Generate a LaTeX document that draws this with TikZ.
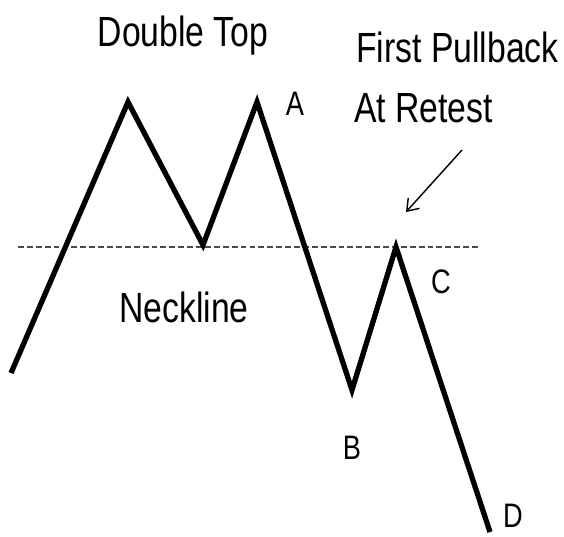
\documentclass[tikz,border=0pt]{standalone}
\usepackage{fontspec}
\setmainfont{Liberation Sans}
\usetikzlibrary{arrows.meta}

\newcommand{\narrow}[1]{\scalebox{0.8}[1]{#1}}

\begin{document}
\begin{tikzpicture}[
  x=0.03cm, y=-0.03cm,
  >={Straight Barb[length=9pt, width=13pt, line width=1.2pt]},
  title/.style={font=\fontsize{36}{40}\selectfont, anchor=base, inner sep=0pt},
  point/.style={font=\fontsize{29}{32}\selectfont, anchor=base, inner sep=0pt},
  price/.style={line width=4.5pt, line join=miter},
  neck/.style={line width=1.7pt, black!70, dash pattern=on 5pt off 2.6pt},
  pointer/.style={->, line width=1.2pt},
]
\useasboundingbox[fill=white] (0,0) rectangle (564,537);

% price path
\coordinate (start) at (11,373);
\coordinate (top1) at (128,102);
\coordinate (mid) at (203,245);
\coordinate (top2) at (257,102);
\coordinate (b) at (352,390);
\coordinate (c) at (396,247);
\coordinate (d) at (490,532);

% neckline
\coordinate (nleft) at (18,247);
\coordinate (nright) at (478,247);

\coordinate (tail) at (462,150);
\coordinate (tip) at (406,212);

\node[title] (dtop) at (183,47) {\narrow{Double Top}};
\node[title, anchor=base west] (pull) at (356,63) {\narrow{First Pullback}};
\node[title, anchor=base west] (retest) at (354,123) {\narrow{At Retest}};
\node[title] (neckl) at (184,322) {\narrow{Neckline}};

\node[point] (la) at (295,116) {\narrow{A}};
\node[point] (lb) at (352,459) {\narrow{B}};
\node[point] (lc) at (441,293) {\narrow{C}};
\node[point] (ld) at (513,527) {\narrow{D}};

\draw[neck] (nleft) -- (nright);
\draw[price] (start) -- (top1) -- (mid) -- (top2) -- (b) -- (c) -- (d);
\draw[pointer] (tail) -- (tip);

\end{tikzpicture}
\end{document}
